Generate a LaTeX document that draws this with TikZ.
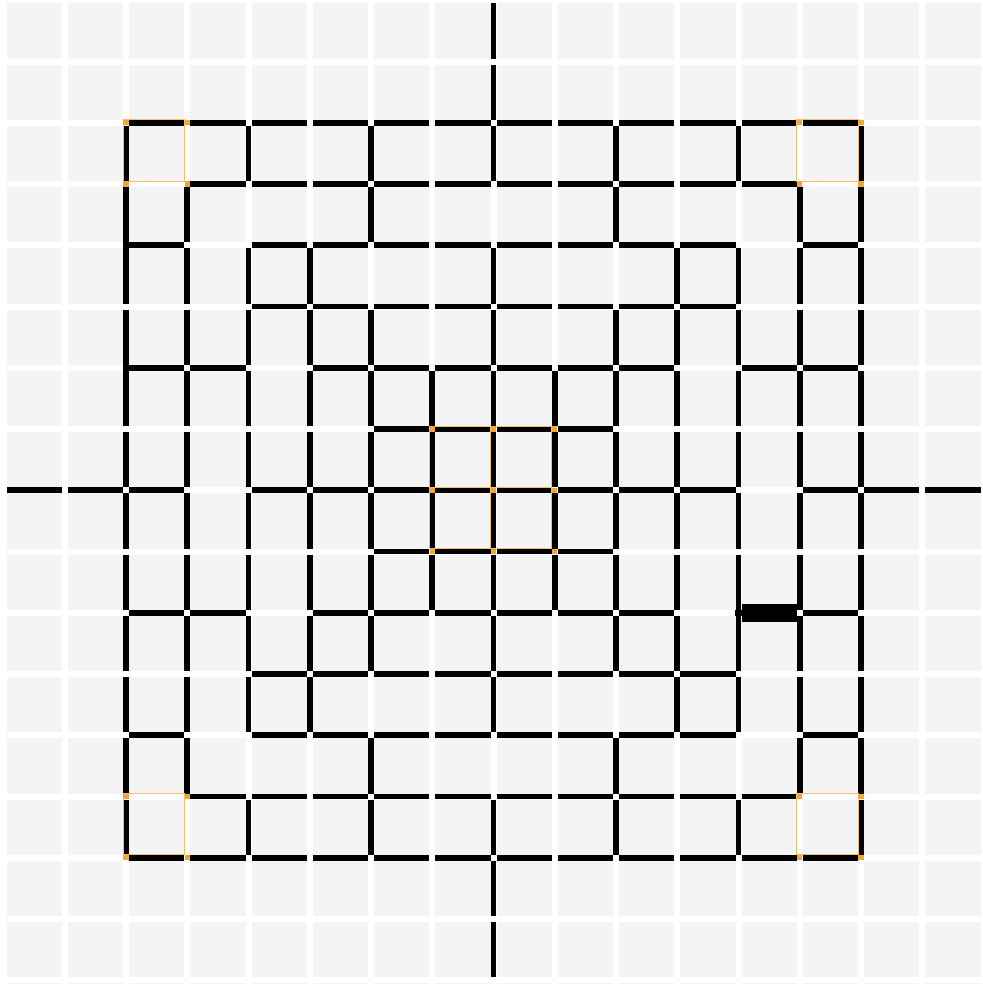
\documentclass[tikz,border=0pt]{standalone}
\definecolor{panel}{RGB}{244,244,244}
\definecolor{orng}{RGB}{243,166,52}
\definecolor{orngl}{RGB}{246,188,105}
\newcommand\hedgerow[2]{\foreach \i in {#2}{\draw[edge] ({3.5+61.25*\i+3},{0.3+61.25*#1}) -- ({3.5+61.25*\i+58.25},{0.3+61.25*#1});}}
\newcommand\vedgerow[2]{\foreach \i in {#2}{\draw[edge] ({3.5+61.25*\i},{0.3+61.25*#1+3}) -- ({3.5+61.25*\i},{0.3+61.25*#1+58.25});}}
\newcommand\ocell[2]{\draw[orngl, line width=0.5pt] ({3.5+61.25*#1-3},{0.3+61.25*#2-3}) rectangle +(61.25,61.25);}
\newcommand\overt[2]{\fill[orng] ({3.5+61.25*#1-2.6},{0.3+61.25*#2-2.6}) rectangle +(5.2,5.2);}
\newcommand\bvert[2]{\fill[black] ({3.5+61.25*#1-3.1},{0.3+61.25*#2-3.1}) rectangle +(6.2,6.2);}
\begin{document}
\begin{tikzpicture}[x=0.5pt,y=-0.5pt,
  edge/.style={line width=2.9pt, black, line cap=butt}]
\useasboundingbox (0,0) rectangle (982,984);
\fill[panel] (0,0) rectangle (982,984);
\foreach \k in {0,...,16}{
  \draw[white, line width=3pt] ({3.5+61.25*\k},-10) -- ({3.5+61.25*\k},1000);
  \draw[white, line width=3pt] (-10,{0.3+61.25*\k}) -- (1000,{0.3+61.25*\k});
}
% horizontal edges
\hedgerow{2}{2,...,13}
\hedgerow{3}{3,...,12}
\hedgerow{4}{2,4,5,6,7,8,9,10,11,13}
\hedgerow{5}{4,...,11}
\hedgerow{6}{2,3,5,6,7,8,9,10,12,13}
\hedgerow{7}{6,7,8,9}
\hedgerow{8}{0,1,2,4,5,6,7,8,9,10,11,13,14,15}
\hedgerow{9}{6,7,8,9}
\hedgerow{10}{2,3,5,6,7,8,9,10,13}
\hedgerow{11}{4,...,11}
\hedgerow{12}{2,4,5,6,7,8,9,10,11,13}
\hedgerow{13}{3,...,12}
\hedgerow{14}{2,...,13}
% vertical edges
\vedgerow{0}{8}
\vedgerow{1}{8}
\vedgerow{2}{2,4,6,8,10,12,14}
\vedgerow{3}{2,3,6,10,13,14}
\vedgerow{4}{2,3,4,5,8,11,12,13,14}
\vedgerow{5}{2,3,4,5,6,8,10,11,12,13,14}
\vedgerow{6}{2,...,14}
\vedgerow{7}{2,...,14}
\vedgerow{8}{2,...,14}
\vedgerow{9}{2,...,14}
\vedgerow{10}{2,3,4,5,6,8,10,11,12,13,14}
\vedgerow{11}{2,3,4,5,8,11,12,13,14}
\vedgerow{12}{2,3,6,10,13,14}
\vedgerow{13}{2,4,6,8,10,12,14}
\vedgerow{14}{8}
\vedgerow{15}{8}
% black junctions
\bvert{2}{4}\bvert{2}{6}\bvert{12}{10}
% thick edge
\fill[black] ({3.5+61.25*12+3},{0.3+61.25*10-9.2}) rectangle ({3.5+61.25*13-3},{0.3+61.25*10+9.2});
% orange cells
\ocell{2}{2}\ocell{13}{2}\ocell{2}{13}\ocell{13}{13}
\ocell{7}{7}\ocell{8}{7}\ocell{7}{8}\ocell{8}{8}
\foreach \a/\b in {2/2,3/2,2/3,3/3,13/2,14/2,13/3,14/3,2/13,3/13,2/14,3/14,13/13,14/13,13/14,14/14}{\overt{\a}{\b}}
\foreach \a in {7,8,9}{\foreach \b in {7,8,9}{\overt{\a}{\b}}}
\end{tikzpicture}
\end{document}
